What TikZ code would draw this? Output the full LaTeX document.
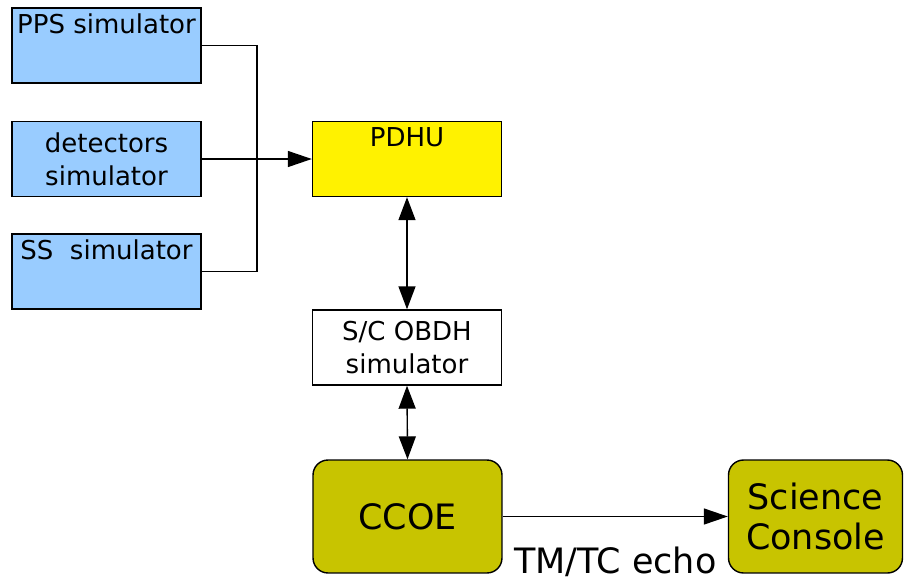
\documentclass[tikz,border=0pt]{standalone}
\usepackage{fontspec}
\setmainfont{DejaVu Sans}
\usetikzlibrary{arrows.meta}
\definecolor{simblue}{RGB}{153,204,255}
\definecolor{olive}{RGB}{200,196,0}
\tikzset{
  box/.style = {draw, line width=0.8pt, inner sep=0pt, minimum width=3.78cm, minimum height=1.5cm, align=center, font=\fontsize{14.8}{18.8}\selectfont},
  topbox/.style = {box, text height=0.5cm, text depth=1cm},
  bigbox/.style = {draw, line width=0.8pt, fill=olive, rounded corners=0.3cm, inner sep=0pt, minimum height=2.26cm, align=center, font=\fontsize{19.9}{22.8}\selectfont},
  link/.style = {line width=0.8pt, -{Triangle[length=0.48cm,width=0.32cm]}},
  both/.style = {line width=0.8pt, {Triangle[length=0.46cm,width=0.34cm]}-{Triangle[length=0.46cm,width=0.34cm]}}
}

\begin{document}
\begin{tikzpicture}[x = 0.02cm, y = -0.02cm]
\useasboundingbox (0,0) rectangle (904,579);
\node[topbox, fill=simblue] (pps) at (106.5,45.5) {PPS simulator};
\node[box, fill=simblue] (det) at (106.5,159) {detectors\\simulator};
\node[topbox, fill=simblue] (ss) at (106.5,271.5) {SS\ \ simulator};
\node[topbox, fill=yellow] (pdhu) at (407,159) {PDHU};
\node[box, fill=white] (obdh) at (407,347.5) {S/C OBDH\\simulator};
\node[bigbox, minimum width=3.78cm] (ccoe) at (407.5,516.5) {CCOE};
\node[bigbox, minimum width=3.48cm] (sci) at (815.5,516.5) {Science\\Console};
\coordinate (bus) at (257,159);
\draw[line width=0.8pt] (pps.east) -| (bus);
\draw[line width=0.8pt] (ss.east) -| (bus);
\draw[link] (det.east) -- (pdhu.west);
\draw[both] (pdhu.south) -- (obdh.north);
\draw[both] (obdh.south) -- (ccoe.north);
\draw[link] (ccoe.east) -- node[midway, below=0.6cm, inner sep=0pt, font=\fontsize{19.9}{22.8}\selectfont] {TM/TC echo} (sci.west);
\end{tikzpicture}
\end{document}
